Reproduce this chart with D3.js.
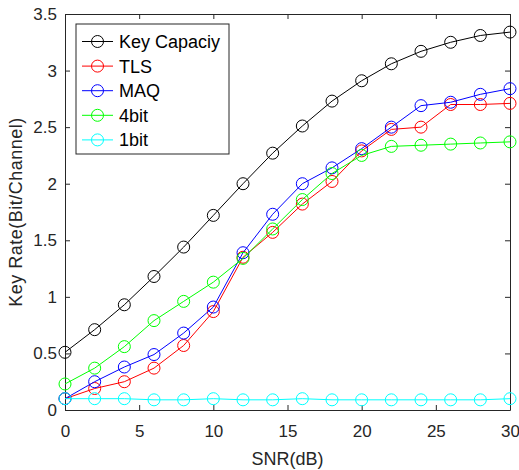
<!DOCTYPE html>
<html>
<head>
<meta charset="utf-8">
<script src="https://cdn.jsdelivr.net/npm/d3@7"></script>
<style>
  body { margin: 0; background: #fff; }
  svg text { font-family: "Liberation Sans", Arial, sans-serif; fill: #262626; }
</style>
</head>
<body>
<div id="chart"></div>
<script>
var snr = [0, 2, 4, 6, 8, 10, 12, 14, 16, 18, 20, 22, 24, 26, 28, 30];
var keyCapacity = [0.51, 0.71, 0.93, 1.18, 1.44, 1.72, 2.00, 2.27, 2.51, 2.73, 2.91, 3.06, 3.17, 3.25, 3.31, 3.34];
var tls = [0.10, 0.19, 0.25, 0.37, 0.57, 0.87, 1.35, 1.57, 1.82, 2.02, 2.29, 2.48, 2.50, 2.70, 2.70, 2.71];
var maq = [0.10, 0.25, 0.38, 0.49, 0.68, 0.91, 1.39, 1.73, 2.00, 2.14, 2.31, 2.50, 2.69, 2.72, 2.79, 2.84];
var bit4 = [0.23, 0.37, 0.56, 0.79, 0.96, 1.13, 1.34, 1.60, 1.86, 2.09, 2.25, 2.33, 2.34, 2.35, 2.36, 2.37];
var bit1 = [0.10, 0.10, 0.10, 0.09, 0.09, 0.10, 0.09, 0.09, 0.10, 0.09, 0.09, 0.09, 0.09, 0.09, 0.09, 0.10];

var seriesNames = ["Key Capaciy", "TLS", "MAQ", "4bit", "1bit"];
var seriesColors = ["#000000", "#ff0000", "#0000ff", "#00ff00", "#00ffff"];
var seriesValues = [keyCapacity, tls, maq, bit4, bit1];

var xTicks = [0, 5, 10, 15, 20, 25, 30];
var yTicks = [0, 0.5, 1, 1.5, 2, 2.5, 3, 3.5];

var margin = { top: 14, right: 9, bottom: 60, left: 65 },
    width = 519 - margin.left - margin.right,
    height = 470 - margin.top - margin.bottom;

var svg = d3.select("#chart").append("svg")
    .attr("width", 519)
    .attr("height", 470)

var g = svg.append("g")
    .attr("transform", "translate(" + margin.left + "," + margin.top + ")")

var xScale = d3.scaleLinear().domain([0, 30]).range([0, width])
var yScale = d3.scaleLinear().domain([0, 3.5]).range([height, 0])

var axisColor = "#262626"
var fmt = function (d) { return String(d) }

// bottom / left axes with inward ticks
g.append("g")
    .attr("class", "x-axis")
    .attr("transform", "translate(0," + height + ")")
    .call(d3.axisBottom(xScale).tickValues(xTicks).tickSize(-5).tickSizeOuter(0).tickPadding(15).tickFormat(fmt))

g.append("g")
    .attr("class", "y-axis")
    .call(d3.axisLeft(yScale).tickValues(yTicks).tickSize(-5).tickSizeOuter(0).tickPadding(8).tickFormat(fmt))

// top / right axes, no labels
g.append("g")
    .attr("class", "x-top")
    .call(d3.axisTop(xScale).tickValues(xTicks).tickSize(-5).tickSizeOuter(0).tickFormat(""))

g.append("g")
    .attr("class", "y-right")
    .attr("transform", "translate(" + width + ",0)")
    .call(d3.axisRight(yScale).tickValues(yTicks).tickSize(-5).tickSizeOuter(0).tickFormat(""))

g.selectAll(".domain, .tick line").attr("stroke", axisColor)
g.selectAll(".tick text").attr("font-size", 17).style("fill", axisColor)

// lines and markers
var line = d3.line()
    .x(function (d, i) { return xScale(snr[i]) })
    .y(function (d) { return yScale(d) })

seriesValues.forEach(function (vals, k) {
    var sg = g.append("g").attr("class", "series")
    sg.append("path")
        .datum(vals)
        .attr("d", line)
        .attr("fill", "none")
        .attr("stroke", seriesColors[k])
        .attr("stroke-width", 1)
    sg.selectAll("circle")
        .data(vals)
        .enter().append("circle")
        .attr("cx", function (d, i) { return xScale(snr[i]) })
        .attr("cy", function (d) { return yScale(d) })
        .attr("r", 6)
        .attr("fill", "none")
        .attr("stroke", seriesColors[k])
        .attr("stroke-width", 1)
})

// axis labels
svg.append("text")
    .attr("x", margin.left + width / 2)
    .attr("y", 465)
    .attr("text-anchor", "middle")
    .attr("font-size", 18)
    .text("SNR(dB)")

svg.append("text")
    .attr("transform", "translate(22," + (margin.top + height / 2) + ") rotate(-90)")
    .attr("text-anchor", "middle")
    .attr("font-size", 18)
    .attr("letter-spacing", 0.5)
    .text("Key Rate(Bit/Channel)")

// legend
var legend = svg.append("g")
    .attr("transform", "translate(76,24)")

legend.append("rect")
    .attr("width", 153)
    .attr("height", 130)
    .attr("fill", "#fff")
    .attr("stroke", axisColor)
    .attr("stroke-width", 1)

seriesNames.forEach(function (name, k) {
    var yy = 17.5 + k * 24.6
    legend.append("line")
        .attr("x1", 6).attr("x2", 37)
        .attr("y1", yy).attr("y2", yy)
        .attr("stroke", seriesColors[k])
    legend.append("circle")
        .attr("cx", 21.5).attr("cy", yy).attr("r", 6)
        .attr("fill", "none")
        .attr("stroke", seriesColors[k])
    legend.append("text")
        .attr("x", 43)
        .attr("y", yy)
        .attr("dy", "0.36em")
        .attr("font-size", 18)
        .style("fill", "#000")
        .text(name)
})
</script>
</body>
</html>
